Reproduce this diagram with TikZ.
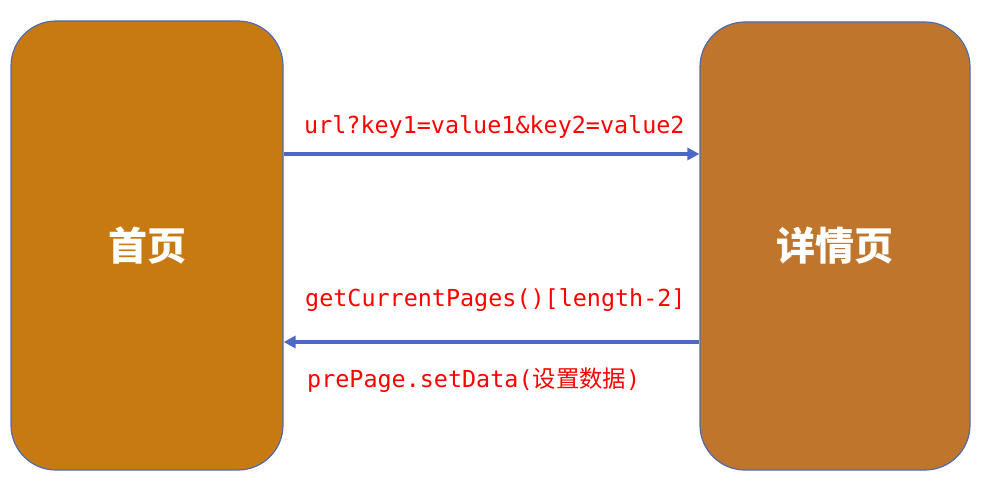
\documentclass[tikz,border=0pt]{standalone}
\usepackage{fontspec}
\usepackage{tikz}
\usetikzlibrary{arrows.meta,positioning}
\setmonofont{DejaVu Sans Mono}
\newfontfamily\cjk{Noto Sans CJK SC}
\definecolor{pageOrange}{RGB}{200,122,18}
\definecolor{pageOrangeDark}{RGB}{191,117,43}
\definecolor{pgBorder}{RGB}{79,106,176}
\definecolor{pgArrow}{RGB}{74,104,197}
\definecolor{pgRed}{RGB}{255,0,0}
\tikzset{
  pagebox/.style={draw=pgBorder, line width=1.2pt, rounded corners=45pt, minimum width=272pt, minimum height=449pt, inner sep=0pt, text=white, font=\cjk\bfseries\fontsize{39}{39}\selectfont},
  msg/.style={draw=pgArrow, line width=3.5pt, -{Triangle[length=12pt,width=12pt]}},
  codetext/.style={text=pgRed, inner sep=0pt, anchor=west, font=\ttfamily\fontsize{23.4}{23.4}\selectfont}
}
\begin{document}
\begin{tikzpicture}[x=1pt,y=-1pt]
\useasboundingbox (0,0) rectangle (987,500);
\node[pagebox, fill=pageOrange] (home) at (147,245.5) {首页};
\node[pagebox, fill=pageOrangeDark, minimum width=270pt, minimum height=448pt] (detail) at (835,246) {详情页};

% forward: pass params in url
\draw[msg] (home.east |- 0,154) -- (detail.west |- 0,154);
\node[codetext] (query) at (304,127) {url?key1=value1\&key2=value2};

% back: set data on previous page
\draw[msg] (detail.west |- 0,342) -- (home.east |- 0,342);
\node[codetext] (getpages) at (305,300) {getCurrentPages()[length-2]};
\node[codetext] (setdata) at (307,380) {prePage.setData({\cjk 设置数据})};
\end{tikzpicture}
\end{document}
